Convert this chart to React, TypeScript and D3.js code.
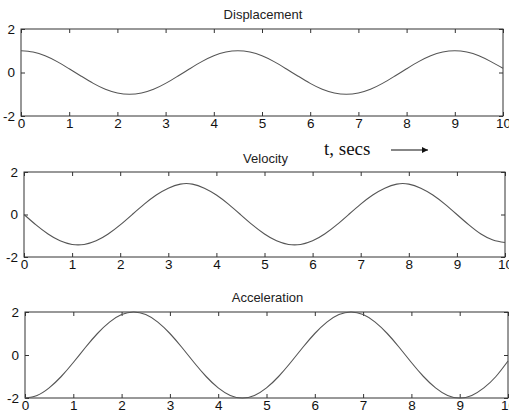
import React, { useEffect, useRef } from 'react';
import * as d3 from 'd3';

// time samples, every 0.25 s from 0 to 10
const time = d3.range(0, 10.001, 0.25);

const displacement = [
  1, 0.94, 0.77, 0.5, 0.17, -0.17, -0.5, -0.77, -0.94, -1, -0.94, -0.77, -0.5, -0.17, 0.17, 0.5, 0.77, 0.94, 1,
  0.94, 0.77, 0.5, 0.17, -0.17, -0.5, -0.77, -0.94, -1, -0.94, -0.77, -0.5, -0.17, 0.17, 0.5, 0.77, 0.94, 1,
  0.94, 0.77, 0.5, 0.19,
];

const velocity = [
  0, -0.49, -0.92, -1.24, -1.41, -1.41, -1.24, -0.92, -0.49, 0, 0.49, 0.92, 1.24, 1.43, 1.43, 1.24, 0.92, 0.49, 0,
  -0.49, -0.92, -1.24, -1.41, -1.41, -1.24, -0.92, -0.49, 0, 0.49, 0.92, 1.24, 1.43, 1.43, 1.24, 0.92, 0.49, 0,
  -0.49, -0.92, -1.2, -1.32,
];

const acceleration = [
  -2, -1.88, -1.53, -1, -0.35, 0.35, 1, 1.53, 1.88, 2, 1.88, 1.53, 1, 0.35, -0.35, -1, -1.53, -1.88, -2,
  -1.88, -1.53, -1, -0.35, 0.35, 1, 1.53, 1.88, 2, 1.88, 1.53, 1, 0.35, -0.35, -1, -1.53, -1.88, -2,
  -1.88, -1.53, -1, -0.28,
];

const titles = ['Displacement', 'Velocity', 'Acceleration'];
const xTicks = [0, 1, 2, 3, 4, 5, 6, 7, 8, 9, 10];
const yTicks = [-2, 0, 2];

// plot boxes (the scan is slightly skewed, so each panel has its own box)
const panels = [
  { left: 21, right: 503, top: 29, bottom: 116, titleY: 19, series: displacement },
  { left: 24, right: 505, top: 172, bottom: 257, titleY: 163, series: velocity },
  { left: 25, right: 508, top: 312, bottom: 398, titleY: 302, series: acceleration },
];

const App = () => {
  const ref = useRef<SVGSVGElement>(null);

  useEffect(() => {
    const svg = d3.select(ref.current);
    svg.selectAll('*').remove();
    const font = '"Liberation Sans", Arial, sans-serif';
    const ink = '#333';
    const plain = (d) => String(d); // keep ascii hyphen for negatives, like matlab

    panels.forEach((p, i) => {
      const x = d3.scaleLinear().domain([0, 10]).range([p.left, p.right]);
      const y = d3.scaleLinear().domain([-2, 2]).range([p.bottom, p.top]);

      const g = svg.append('g');

      // frame
      g.append('rect')
        .attr('x', p.left)
        .attr('y', p.top)
        .attr('width', p.right - p.left)
        .attr('height', p.bottom - p.top)
        .attr('fill', 'none')
        .attr('stroke', ink)
        .attr('stroke-width', 1);

      const styleAxis = (sel) => {
        sel.select('.domain').remove();
        sel.selectAll('line').attr('stroke', ink);
        sel.selectAll('text').attr('fill', '#111').style('font-family', font).style('font-size', '13.5px');
      };

      g.append('g')
        .attr('transform', `translate(0,${p.bottom})`)
        .call(d3.axisBottom(x).tickValues(xTicks).tickFormat(plain).tickSizeInner(-4).tickSizeOuter(0).tickPadding(2))
        .call(styleAxis);

      g.append('g')
        .attr('transform', `translate(0,${p.top})`)
        .call(d3.axisTop(x).tickValues(xTicks).tickSizeInner(-4).tickSizeOuter(0).tickFormat(() => ''))
        .call(styleAxis);

      g.append('g')
        .attr('transform', `translate(${p.left},0)`)
        .call(d3.axisLeft(y).tickValues(yTicks).tickFormat(plain).tickSizeInner(-4).tickSizeOuter(0).tickPadding(6))
        .call(styleAxis);

      g.append('g')
        .attr('transform', `translate(${p.right},0)`)
        .call(d3.axisRight(y).tickValues(yTicks).tickSizeInner(-4).tickSizeOuter(0).tickFormat(() => ''))
        .call(styleAxis);

      const line = d3
        .line<number>()
        .x((d, j) => x(time[j]))
        .y((d) => y(d))
        .curve(d3.curveNatural);

      g.append('path')
        .datum(p.series)
        .attr('fill', 'none')
        .attr('stroke', '#555')
        .attr('stroke-width', 1.1)
        .attr('d', line);

      g.append('text')
        .attr('x', (p.left + p.right) / 2 + 1)
        .attr('y', p.titleY)
        .attr('text-anchor', 'middle')
        .style('font-family', font)
        .style('font-size', '13px')
        .attr('fill', '#222')
        .text(titles[i]);
    });

    // annotation
    svg.append('text')
      .attr('x', 324)
      .attr('y', 155)
      .style('font-family', '"Liberation Serif", "Times New Roman", serif')
      .style('font-size', '19px')
      .attr('fill', '#111')
      .text('t, secs');

    const defs = svg.append('defs');
    defs.append('marker')
      .attr('id', 'arrowhead')
      .attr('viewBox', '0 0 10 10')
      .attr('refX', 10)
      .attr('refY', 5)
      .attr('markerWidth', 9)
      .attr('markerHeight', 6)
      .attr('markerUnits', 'userSpaceOnUse')
      .attr('orient', 'auto')
      .append('path')
      .attr('d', 'M0,0 L10,5 L0,10 z')
      .attr('fill', '#111');

    svg.append('line')
      .attr('x1', 391)
      .attr('y1', 150)
      .attr('x2', 428)
      .attr('y2', 150)
      .attr('stroke', '#111')
      .attr('stroke-width', 1.2)
      .attr('marker-end', 'url(#arrowhead)');
  }, []);

  return (
    <svg
      ref={ref}
      width={509}
      height={413}
      style={{ position: 'absolute', left: 0, top: 0, background: '#fff' }}
    />
  );
};

export default App;
